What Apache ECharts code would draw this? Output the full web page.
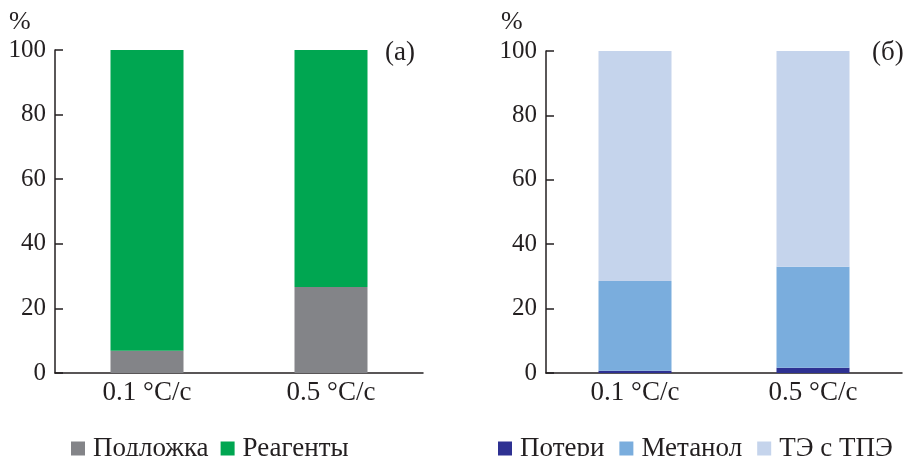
<!DOCTYPE html>
<html><head><meta charset="utf-8">
<script src="https://cdn.jsdelivr.net/npm/echarts@6/dist/echarts.min.js"></script>
<style>html,body{margin:0;padding:0;background:#fff}#c{width:905px;height:456px}</style>
</head><body><div id="c"></div>
<script>
const categories = ['0.1 °C/c', '0.5 °C/c'];
const yTicks = [0, 20, 40, 60, 80, 100];
// Panel (a)
const podlozhka = [6.9, 26.6];
const reagenty = [93.1, 73.4];
// Panel (б)
const poteri = [0.7, 1.6];
const metanol = [27.9, 31.4];
const teTpe = [71.4, 67.0];

const FONT = '"Liberation Serif", serif';
const INK = '#231f20';
const chart = echarts.init(document.getElementById('c'), null, {renderer: 'canvas'});

function xAx(i) {
  return {
    type: 'category', gridIndex: i, data: categories,
    axisLine: {lineStyle: {color: INK, width: 1.5}},
    axisTick: {show: false},
    axisLabel: {color: INK, fontFamily: FONT, fontSize: 27, margin: 6}
  };
}
function yAx(i) {
  return {
    type: 'value', gridIndex: i, min: 0, max: 100, interval: 20,
    axisLine: {show: true, lineStyle: {color: INK, width: 1.5}},
    axisTick: {show: true, inside: true, length: 8, lineStyle: {color: INK, width: 1.5}},
    splitLine: {show: false},
    axisLabel: {color: INK, fontFamily: FONT, fontSize: 25, margin: 9,
      formatter: v => yTicks.includes(v) ? String(v) : ''}
  };
}
function bar(name, data, color, idx, stack) {
  return {name, type: 'bar', data, stack, xAxisIndex: idx, yAxisIndex: idx,
    barWidth: 73, itemStyle: {color}, emphasis: {disabled: true}};
}
const legendText = {color: INK, fontFamily: FONT, fontSize: 27, padding: [0, 0, 0, 3]};

chart.setOption({
  animation: false,
  grid: [
    {left: 55, right: 482, top: 50, bottom: 83},
    {left: 546, right: 3, top: 51, bottom: 83}
  ],
  xAxis: [xAx(0), xAx(1)],
  yAxis: [yAx(0), yAx(1)],
  legend: [
    {data: ['Подложка', 'Реагенты'], left: 66, top: 430, itemWidth: 14, itemHeight: 14,
     itemGap: 12, icon: 'rect', textStyle: legendText, selectedMode: false},
    {data: ['Потери', 'Метанол', 'ТЭ с ТПЭ'], left: 493, top: 430, itemWidth: 14, itemHeight: 14,
     itemGap: 15, icon: 'rect', textStyle: legendText, selectedMode: false}
  ],
  graphic: [
    {type: 'text', left: 9, top: 9, style: {text: '%', font: '26px "Liberation Serif", serif', fill: INK}},
    {type: 'text', left: 501, top: 9, style: {text: '%', font: '26px "Liberation Serif", serif', fill: INK}},
    {type: 'text', left: 385, top: 39, style: {text: '(a)', font: '27px "Liberation Serif", serif', fill: INK}},
    {type: 'text', left: 872, top: 39, style: {text: '(б)', font: '27px "Liberation Serif", serif', fill: INK}}
  ],
  series: [
    bar('Подложка', podlozhka, '#838488', 0, 'a'),
    bar('Реагенты', reagenty, '#00a651', 0, 'a'),
    bar('Потери', poteri, '#2e3192', 1, 'b'),
    bar('Метанол', metanol, '#7aaddd', 1, 'b'),
    bar('ТЭ с ТПЭ', teTpe, '#c5d4ec', 1, 'b')
  ]
});
</script></body></html>
